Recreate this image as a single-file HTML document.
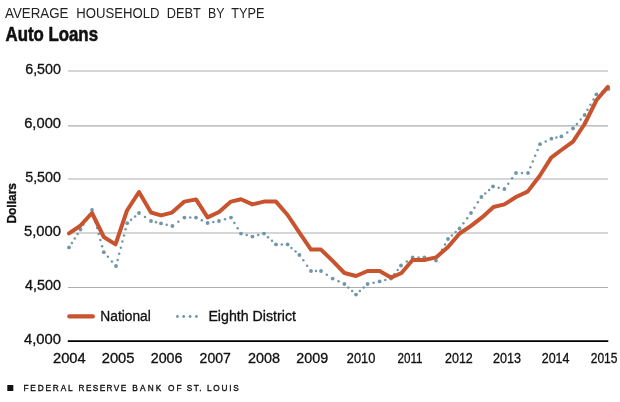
<!DOCTYPE html>
<html lang="en">
<head>
<meta charset="utf-8">
<title>Average Household Debt by Type: Auto Loans</title>
<style>
html,body{margin:0;padding:0;background:#fff;}
body{width:620px;height:402px;overflow:hidden;}
svg{display:block;}
text{font-family:"Liberation Sans","DejaVu Sans",sans-serif;fill:#111;}
.ax{font-size:13.8px;stroke:#111;stroke-width:0.3px;}
.lg{font-size:13.8px;stroke:#111;stroke-width:0.3px;}
</style>
</head>
<body>
<svg width="620" height="402" viewBox="0 0 620 402">
<rect width="620" height="402" fill="#fff"/>

<g font-size="14.2" style="fill:#222">
<text x="5" y="18" textLength="63.50" lengthAdjust="spacingAndGlyphs" style="fill:#222">AVERAGE</text>
<text x="76.25" y="18" textLength="83.25" lengthAdjust="spacingAndGlyphs" style="fill:#222">HOUSEHOLD</text>
<text x="166.75" y="18" textLength="34.00" lengthAdjust="spacingAndGlyphs" style="fill:#222">DEBT</text>
<text x="208" y="18" textLength="16.50" lengthAdjust="spacingAndGlyphs" style="fill:#222">BY</text>
<text x="231.25" y="18" textLength="33.25" lengthAdjust="spacingAndGlyphs" style="fill:#222">TYPE</text>
</g>
<text x="5.5" y="40.75" font-size="20.3" font-weight="bold" stroke="#111" stroke-width="0.6" textLength="92.5" lengthAdjust="spacingAndGlyphs">Auto Loans</text>
<line x1="68" y1="71.0" x2="608" y2="71.0" stroke="#adadb2" stroke-width="1.2"/>
<line x1="68" y1="125.9" x2="608" y2="125.9" stroke="#adadb2" stroke-width="1.2"/>
<line x1="68" y1="179.0" x2="608" y2="179.0" stroke="#adadb2" stroke-width="1.2"/>
<line x1="68" y1="233.0" x2="608" y2="233.0" stroke="#adadb2" stroke-width="1.2"/>
<line x1="68" y1="287.5" x2="608" y2="287.5" stroke="#adadb2" stroke-width="1.2"/>
<line x1="67.8" y1="341.2" x2="608.3" y2="341.2" stroke="#000" stroke-width="1.7"/>
<text class="ax" x="25.2" y="74.4" textLength="35.80" lengthAdjust="spacingAndGlyphs">6,500</text>
<text class="ax" x="24.2" y="128.4" textLength="36.80" lengthAdjust="spacingAndGlyphs">6,000</text>
<text class="ax" x="25.2" y="182.4" textLength="35.80" lengthAdjust="spacingAndGlyphs">5,500</text>
<text class="ax" x="23.9" y="236.4" textLength="37.10" lengthAdjust="spacingAndGlyphs">5,000</text>
<text class="ax" x="25.0" y="289.9" textLength="36.00" lengthAdjust="spacingAndGlyphs">4,500</text>
<text class="ax" x="23.9" y="343.7" textLength="37.10" lengthAdjust="spacingAndGlyphs">4,000</text>
<text font-size="13.7" font-weight="bold" stroke="#111" stroke-width="0.35" transform="translate(16.2,223.6) rotate(-90)" textLength="40.6" lengthAdjust="spacingAndGlyphs">Dollars</text>
<text class="ax" x="53" y="363.25" textLength="32.75" lengthAdjust="spacingAndGlyphs">2004</text>
<text class="ax" x="101.75" y="363.25" textLength="32.75" lengthAdjust="spacingAndGlyphs">2005</text>
<text class="ax" x="150.75" y="363.25" textLength="31.75" lengthAdjust="spacingAndGlyphs">2006</text>
<text class="ax" x="199.6" y="363.25" textLength="31.20" lengthAdjust="spacingAndGlyphs">2007</text>
<text class="ax" x="248" y="363.25" textLength="32.00" lengthAdjust="spacingAndGlyphs">2008</text>
<text class="ax" x="296.3" y="363.25" textLength="31.80" lengthAdjust="spacingAndGlyphs">2009</text>
<text class="ax" x="346.75" y="363.25" textLength="28.55" lengthAdjust="spacingAndGlyphs">2010</text>
<text class="ax" x="397.5" y="363.25" textLength="25.10" lengthAdjust="spacingAndGlyphs">2011</text>
<text class="ax" x="445" y="363.25" textLength="27.80" lengthAdjust="spacingAndGlyphs">2012</text>
<text class="ax" x="493" y="363.25" textLength="28.00" lengthAdjust="spacingAndGlyphs">2013</text>
<text class="ax" x="541.75" y="363.25" textLength="27.75" lengthAdjust="spacingAndGlyphs">2014</text>
<text class="ax" x="590.75" y="363.25" textLength="26.75" lengthAdjust="spacingAndGlyphs">2015</text>
<g fill="#7096a8">
<circle cx="71.9" cy="242.9" r="1.25"/>
<circle cx="74.8" cy="238.4" r="1.25"/>
<circle cx="77.6" cy="234.0" r="1.25"/>
<circle cx="83.4" cy="224.6" r="1.25"/>
<circle cx="86.2" cy="219.8" r="1.25"/>
<circle cx="89.1" cy="214.9" r="1.25"/>
<circle cx="93.7" cy="216.0" r="1.25"/>
<circle cx="95.4" cy="222.1" r="1.25"/>
<circle cx="97.1" cy="228.1" r="1.25"/>
<circle cx="98.7" cy="234.1" r="1.25"/>
<circle cx="100.4" cy="240.1" r="1.25"/>
<circle cx="102.1" cy="246.2" r="1.25"/>
<circle cx="107.9" cy="256.8" r="1.25"/>
<circle cx="111.9" cy="261.4" r="1.25"/>
<circle cx="117.6" cy="259.9" r="1.25"/>
<circle cx="119.2" cy="253.8" r="1.25"/>
<circle cx="120.8" cy="247.7" r="1.25"/>
<circle cx="122.4" cy="241.5" r="1.25"/>
<circle cx="124.0" cy="235.4" r="1.25"/>
<circle cx="125.6" cy="229.3" r="1.25"/>
<circle cx="131.1" cy="219.8" r="1.25"/>
<circle cx="135.1" cy="216.4" r="1.25"/>
<circle cx="145.0" cy="217.0" r="1.25"/>
<circle cx="156.0" cy="222.2" r="1.25"/>
<circle cx="166.7" cy="224.7" r="1.25"/>
<circle cx="178.4" cy="221.8" r="1.25"/>
<circle cx="190.2" cy="217.6" r="1.25"/>
<circle cx="201.8" cy="220.3" r="1.25"/>
<circle cx="213.3" cy="222.0" r="1.25"/>
<circle cx="225.0" cy="219.3" r="1.25"/>
<circle cx="234.3" cy="222.9" r="1.25"/>
<circle cx="237.7" cy="228.3" r="1.25"/>
<circle cx="246.7" cy="235.1" r="1.25"/>
<circle cx="258.2" cy="235.1" r="1.25"/>
<circle cx="268.0" cy="237.2" r="1.25"/>
<circle cx="272.0" cy="240.8" r="1.25"/>
<circle cx="281.8" cy="244.4" r="1.25"/>
<circle cx="291.5" cy="247.9" r="1.25"/>
<circle cx="295.5" cy="251.5" r="1.25"/>
<circle cx="303.3" cy="260.3" r="1.25"/>
<circle cx="307.1" cy="265.7" r="1.25"/>
<circle cx="316.0" cy="271.0" r="1.25"/>
<circle cx="326.8" cy="274.8" r="1.25"/>
<circle cx="338.5" cy="281.3" r="1.25"/>
<circle cx="348.3" cy="287.5" r="1.25"/>
<circle cx="352.1" cy="291.1" r="1.25"/>
<circle cx="359.9" cy="291.1" r="1.25"/>
<circle cx="363.7" cy="287.5" r="1.25"/>
<circle cx="373.6" cy="282.7" r="1.25"/>
<circle cx="385.3" cy="280.0" r="1.25"/>
<circle cx="394.3" cy="274.2" r="1.25"/>
<circle cx="397.7" cy="269.9" r="1.25"/>
<circle cx="406.8" cy="261.4" r="1.25"/>
<circle cx="418.5" cy="257.4" r="1.25"/>
<circle cx="430.2" cy="259.0" r="1.25"/>
<circle cx="439.0" cy="255.2" r="1.25"/>
<circle cx="442.0" cy="249.8" r="1.25"/>
<circle cx="445.0" cy="244.4" r="1.25"/>
<circle cx="451.9" cy="235.5" r="1.25"/>
<circle cx="455.7" cy="232.0" r="1.25"/>
<circle cx="463.4" cy="223.3" r="1.25"/>
<circle cx="467.2" cy="218.2" r="1.25"/>
<circle cx="474.5" cy="207.7" r="1.25"/>
<circle cx="477.9" cy="202.3" r="1.25"/>
<circle cx="485.3" cy="193.5" r="1.25"/>
<circle cx="489.1" cy="189.9" r="1.25"/>
<circle cx="498.7" cy="187.7" r="1.25"/>
<circle cx="508.3" cy="183.7" r="1.25"/>
<circle cx="512.1" cy="178.3" r="1.25"/>
<circle cx="522.0" cy="173.0" r="1.25"/>
<circle cx="530.4" cy="167.2" r="1.25"/>
<circle cx="532.8" cy="161.5" r="1.25"/>
<circle cx="535.2" cy="155.7" r="1.25"/>
<circle cx="537.6" cy="150.0" r="1.25"/>
<circle cx="545.7" cy="141.4" r="1.25"/>
<circle cx="556.4" cy="137.6" r="1.25"/>
<circle cx="567.2" cy="132.4" r="1.25"/>
<circle cx="576.9" cy="123.9" r="1.25"/>
<circle cx="580.7" cy="119.5" r="1.25"/>
<circle cx="587.5" cy="109.8" r="1.25"/>
<circle cx="590.5" cy="104.7" r="1.25"/>
<circle cx="593.5" cy="99.6" r="1.25"/>
<circle cx="602.4" cy="91.7" r="1.25"/>
<circle cx="69.0" cy="247.4" r="1.9"/>
<circle cx="80.5" cy="229.5" r="1.9"/>
<circle cx="92.0" cy="210.0" r="1.9"/>
<circle cx="103.8" cy="252.2" r="1.9"/>
<circle cx="116.0" cy="266.0" r="1.9"/>
<circle cx="127.2" cy="223.2" r="1.9"/>
<circle cx="139.0" cy="213.0" r="1.9"/>
<circle cx="151.0" cy="221.0" r="1.9"/>
<circle cx="161.0" cy="223.4" r="1.9"/>
<circle cx="172.4" cy="226.0" r="1.9"/>
<circle cx="184.4" cy="217.6" r="1.9"/>
<circle cx="196.0" cy="217.6" r="1.9"/>
<circle cx="207.6" cy="223.0" r="1.9"/>
<circle cx="219.0" cy="221.0" r="1.9"/>
<circle cx="231.0" cy="217.6" r="1.9"/>
<circle cx="241.0" cy="233.6" r="1.9"/>
<circle cx="252.4" cy="236.6" r="1.9"/>
<circle cx="264.0" cy="233.6" r="1.9"/>
<circle cx="276.0" cy="244.4" r="1.9"/>
<circle cx="287.6" cy="244.4" r="1.9"/>
<circle cx="299.4" cy="255.0" r="1.9"/>
<circle cx="311.0" cy="271.0" r="1.9"/>
<circle cx="321.0" cy="271.0" r="1.9"/>
<circle cx="332.6" cy="278.6" r="1.9"/>
<circle cx="344.4" cy="284.0" r="1.9"/>
<circle cx="356.0" cy="294.6" r="1.9"/>
<circle cx="367.6" cy="284.0" r="1.9"/>
<circle cx="379.6" cy="281.4" r="1.9"/>
<circle cx="391.0" cy="278.6" r="1.9"/>
<circle cx="401.0" cy="265.5" r="1.9"/>
<circle cx="412.6" cy="257.4" r="1.9"/>
<circle cx="424.4" cy="257.4" r="1.9"/>
<circle cx="436.0" cy="260.6" r="1.9"/>
<circle cx="448.0" cy="239.0" r="1.9"/>
<circle cx="459.6" cy="228.5" r="1.9"/>
<circle cx="471.0" cy="213.0" r="1.9"/>
<circle cx="481.4" cy="197.0" r="1.9"/>
<circle cx="493.0" cy="186.4" r="1.9"/>
<circle cx="504.4" cy="189.0" r="1.9"/>
<circle cx="516.0" cy="173.0" r="1.9"/>
<circle cx="528.0" cy="173.0" r="1.9"/>
<circle cx="540.0" cy="144.2" r="1.9"/>
<circle cx="551.4" cy="138.7" r="1.9"/>
<circle cx="561.4" cy="136.4" r="1.9"/>
<circle cx="573.0" cy="128.4" r="1.9"/>
<circle cx="584.6" cy="115.0" r="1.9"/>
<circle cx="596.4" cy="94.4" r="1.9"/>
<circle cx="608.4" cy="89.0" r="1.9"/>
</g>
<polyline points="69,233.4 80,226 92,213 103.8,237 115.5,244.4 127,210.5 139,192 151,212.5 161,215.4 172,212.6 184.4,201.6 196,199.4 207.6,217.4 219,212 231,201.6 241,199.2 252.4,204.4 264,201.6 276,201.6 287.6,215 299.4,232.6 311,249.6 321,249.6 332.4,260.6 344.4,273 356,276 367.6,271 379.6,271 391,277.6 401.5,273 412.6,260 424.4,260 436,257.4 448,247 459.6,233.5 471,225.8 482.3,217.2 493.5,207 504.4,204.4 516,197 527.6,191.6 539.6,176 551.2,157.6 561.4,150 573,141.6 584.6,124 596.6,100 607.9,86.9" fill="none" stroke="#c8532f" stroke-width="4" stroke-linejoin="round" stroke-linecap="round"/>
<line x1="69.3" y1="316.4" x2="92.9" y2="316.4" stroke="#c8532f" stroke-width="4.2" stroke-linecap="round"/>
<text class="lg" x="100.3" y="321.2" textLength="50.5" lengthAdjust="spacingAndGlyphs">National</text>
<g fill="#7096a8">
<circle cx="177.4" cy="316.5" r="1.4"/>
<circle cx="183.7" cy="316.5" r="1.4"/>
<circle cx="190.1" cy="316.5" r="1.4"/>
<circle cx="196.4" cy="316.5" r="1.4"/>
</g>
<text class="lg" x="208.4" y="321.2" textLength="87.6" lengthAdjust="spacingAndGlyphs">Eighth District</text>
<rect x="7.3" y="385" width="6" height="6" fill="#111"/>
<text transform="translate(23.4,390.8) scale(0.84,1)" font-size="9.8" stroke="#111" stroke-width="0.4" textLength="58.57" lengthAdjust="spacing">FEDERAL</text>
<text transform="translate(78.6,390.8) scale(0.84,1)" font-size="9.8" stroke="#111" stroke-width="0.4" textLength="56.67" lengthAdjust="spacing">RESERVE</text>
<text transform="translate(132.3,390.8) scale(0.84,1)" font-size="9.8" stroke="#111" stroke-width="0.4" textLength="34.52" lengthAdjust="spacing">BANK</text>
<text transform="translate(168.1,390.8) scale(0.84,1)" font-size="9.8" stroke="#111" stroke-width="0.4" textLength="15.95" lengthAdjust="spacing">OF</text>
<text transform="translate(186.7,390.8) scale(0.84,1)" font-size="9.8" stroke="#111" stroke-width="0.4" textLength="17.74" lengthAdjust="spacing">ST.</text>
<text transform="translate(206.9,390.8) scale(0.84,1)" font-size="9.8" stroke="#111" stroke-width="0.4" textLength="37.86" lengthAdjust="spacing">LOUIS</text>
</svg>
</body>
</html>
